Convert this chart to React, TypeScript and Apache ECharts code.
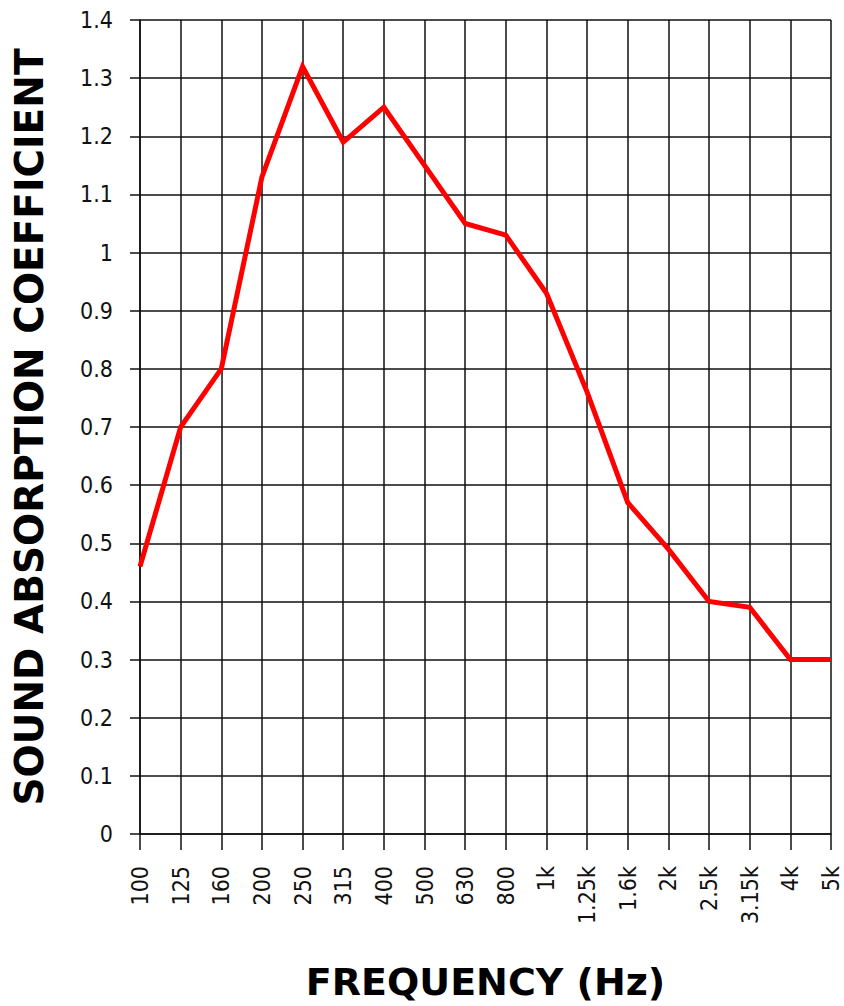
import React, { useEffect, useRef } from "react";
import * as echarts from "echarts";

const frequencies = ["100", "125", "160", "200", "250", "315", "400", "500", "630", "800", "1k", "1.25k", "1.6k", "2k", "2.5k", "3.15k", "4k", "5k"];
const absorption = [0.46, 0.70, 0.80, 1.13, 1.32, 1.19, 1.25, 1.15, 1.05, 1.03, 0.93, 0.76, 0.57, 0.49, 0.40, 0.39, 0.30, 0.30];
const yMin = 0;
const yMax = 1.4;
const yStep = 0.1;

export default function App() {
  const ref = useRef<HTMLDivElement>(null);
  useEffect(() => {
    document.body.style.margin = "0";
    const chart = echarts.init(ref.current!, null, { renderer: "svg" });
    const tickFont = { fontFamily: "DejaVu Sans Condensed, DejaVu Sans", fontSize: 23, color: "#111", lineHeight: 23 };
    chart.setOption({
      animation: false,
      backgroundColor: "#fff",
      grid: { left: 140, right: 13, top: 20, bottom: 167, containLabel: false },
      xAxis: {
        type: "category",
        data: frequencies,
        boundaryGap: false,
        name: "FREQUENCY (Hz)",
        nameLocation: "middle",
        nameGap: 129,
        nameTextStyle: { fontFamily: "DejaVu Sans", fontWeight: "bold", fontSize: 38, color: "#000" },
        axisLine: { lineStyle: { color: "#111", width: 1.5 } },
        axisTick: { show: true, length: 16, alignWithLabel: true, lineStyle: { color: "#111", width: 1.5 } },
        axisLabel: { ...tickFont, rotate: 90, margin: 32, interval: 0 },
        splitLine: { show: true, lineStyle: { color: "#111", width: 1.5 } },
      },
      yAxis: {
        type: "value",
        min: yMin,
        max: yMax,
        interval: yStep,
        name: "SOUND ABSORPTION COEFFICIENT",
        nameLocation: "middle",
        nameGap: 91,
        nameRotate: 90,
        nameTextStyle: { fontFamily: "DejaVu Sans", fontWeight: "bold", fontSize: 39, color: "#000" },
        axisLine: { show: true, lineStyle: { color: "#111", width: 1.5 } },
        axisTick: { show: true, length: 10, lineStyle: { color: "#111", width: 1.5 } },
        axisLabel: {
          ...tickFont,
          margin: 27,
          formatter: (v: number) => String(Math.round(v * 10) / 10),
        },
        splitLine: { show: true, lineStyle: { color: "#111", width: 1.5 } },
      },
      series: [
        {
          type: "line",
          data: absorption,
          symbol: "none",
          lineStyle: { color: "#ff0000", width: 5, join: "miter" },
          itemStyle: { color: "#ff0000" },
        },
      ],
    });
    return () => chart.dispose();
  }, []);
  return <div ref={ref} style={{ width: 844, height: 1006 }} />;
}
